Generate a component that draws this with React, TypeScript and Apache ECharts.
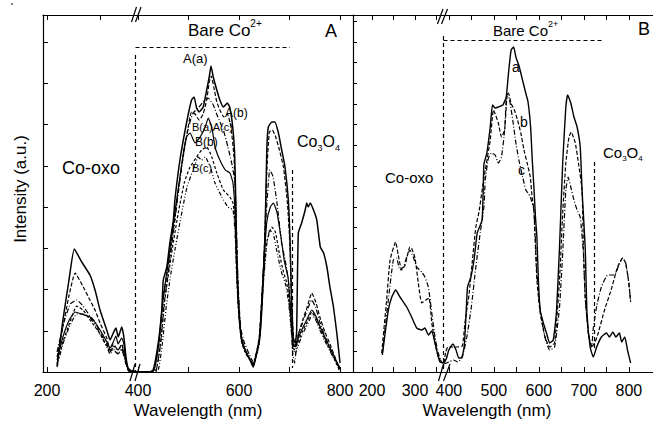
import React, { useEffect, useRef } from "react";
import * as echarts from "echarts";

// ---------- Panel A : [wavelength (nm), intensity (a.u.)] ----------
const aAaLeft = [[219,6],[230,52],[241.5,92],[251.5,123],[265.5,110],[281,97],[290.6,82],[300,62],[312.7,42],[319,32],[325,39],[330,44],[334.5,35],[341,45],[345,35],[349,15],[353,4],[360,1],[366,1]];
const aAaRight = [[394,0],[423,0],[430,2],[440,29],[447,62],[450,92],[457,105],[463,129],[470,152],[473,172],[483,212],[496,249],[506,272],[511,275],[516,264],[521,260],[529,265],[536,282],[541,295],[544.5,306],[549,295],[556,282],[562,272],[569,265],[577,269],[582,264],[587.5,245],[591,222],[593,185],[595,122],[598.6,72],[605,32],[612,22],[622,12],[628,5],[642,39],[651.5,139],[655,222],[658,245],[665,250],[671,250],[678,239],[684.5,222],[691,205],[697.6,172],[701,132],[704,72],[707.5,32],[711,29],[714,39],[717.4,139],[724,149],[731,162],[734,169],[737,165],[741,169],[747.5,162],[754,152],[761,125],[767.5,119],[774,105],[780,85],[787,65],[793.6,39],[800,9]];

const aAbLeft = [[219,15],[230,45],[241,75],[253,99],[268.5,85],[281,72],[290.6,62],[300,49],[312.7,34],[319,22],[325,28],[334,22],[341,27],[349,10],[353,2],[360,0],[366,0]];
const aAbRight = [[394,0],[423,0],[432,3],[442,30],[450,75],[458,100],[465,125],[472,150],[483,195],[496,235],[506,260],[513,258],[521,252],[529,258],[536,272],[541,290],[545,296],[550,285],[556,270],[562,262],[570,255],[577,258],[584,245],[590,215],[594,160],[598,85],[603,40],[610,25],[620,14],[628,8],[640,35],[650,120],[655,200],[660,240],[666,242],[672,236],[680,222],[688,205],[696,168],[701,125],[704,70],[708,35],[712,25],[718,38],[726,52],[735,65],[744,79],[752,70],[760,55],[770,40],[780,28],[790,15],[798,2]];

const aAcLeft = [[219,20],[232,50],[244,68],[256,72],[268,66],[281,56],[291,50],[300,40],[313,28],[319,20],[325,24],[334,18],[341,22],[349,8],[355,1],[366,0]];
const aAcRight = [[394,0],[425,0],[436,2],[445,30],[452,70],[460,100],[470,140],[480,180],[492,225],[500,245],[509,259],[519,264],[529,270],[539,274],[549,267],[558,255],[569,242],[578,225],[585.5,209],[592,189],[595,140],[598,90],[603,45],[610,30],[620,18],[628,10],[640,30],[648,100],[654,160],[661,202],[667,196],[675,170],[684,130],[692,110],[698,90],[702,60],[706,20],[710,9],[716,35],[725,48],[735,62],[744,72],[752,64],[760,50],[770,36],[782,22],[792,10],[800,3]];

const aBaLeft = [[219,12],[230,35],[242,52],[253,60],[265,58],[281,55],[290,50],[300,42],[313,30],[319,24],[325,30],[330,36],[334,28],[341,34],[345,28],[349,12],[353,3],[360,0],[366,0]];
const aBaRight = [[394,0],[423,0],[432,2],[441,28],[449,70],[457,100],[465,130],[473,160],[483,195],[490,220],[496,235],[503,239],[513,229],[523,235],[533,245],[539,254],[546,245],[552.5,225],[562,212],[573,202],[582,199],[588,189],[592,160],[595,110],[599,65],[605,35],[612,22],[622,12],[628,6],[640,32],[648,100],[655,150],[662,165],[668,169],[675,160],[683,135],[690,110],[697,95],[701,70],[705,40],[709,25],[714,30],[724,42],[734,52],[744,62],[752,56],[760,46],[770,35],[782,22],[792,12],[800,4]];

const aBbLeft = [[219,8],[230,30],[242,48],[256,66],[268,62],[281,52],[291,45],[300,38],[313,26],[319,20],[325,26],[334,22],[341,28],[349,10],[354,1],[366,0]];
const aBbRight = [[394,0],[426,0],[436,2],[445,30],[453,72],[461,100],[470,130],[480,160],[492,190],[503,205],[516,215],[526,222],[536,225],[546,215],[556,199],[569,182],[582,175],[588,169],[592,150],[595,100],[599,60],[605,30],[612,20],[622,12],[628,8],[640,30],[648,90],[655,130],[665,145],[672,140],[680,118],[688,100],[695,88],[700,65],[705,35],[709,22],[715,28],[725,40],[735,50],[744,60],[752,54],[760,44],[770,33],[782,20],[792,10],[800,3]];

const aBcLeft = [[219,5],[230,28],[242,45],[256,58],[268,58],[281,54],[291,47],[300,38],[313,25],[319,18],[325,22],[334,18],[341,24],[349,8],[354,1],[366,0]];
const aBcRight = [[394,0],[428,0],[440,2],[448,28],[456,66],[464,95],[474,125],[485,155],[497,185],[509,202],[519,215],[526,212],[533,215],[543,205],[552.5,189],[566,175],[578,165],[588,162],[592,140],[596,95],[600,55],[606,30],[614,18],[624,10],[628,8],[640,28],[648,88],[655,128],[661,142],[668,138],[676,118],[684,100],[692,88],[698,70],[703,45],[707,25],[711,18],[716,25],[726,38],[736,48],[745,57],[752,52],[760,42],[770,31],[782,19],[792,9],[800,2]];

// ---------- Panel B ----------
const bALeft = [[224,17],[238,62],[246,75],[255,82],[265,75],[280.7,65],[292,55],[304,44],[315.6,42],[323,44],[331,37],[339,41],[346.5,29],[352,19],[358,10],[366,9]];
const bARight = [[389.5,9],[395,14],[400,22],[409,28],[416,22],[422,14],[428,14],[434,25],[438,55],[441.5,85],[449,95],[456,112],[463,139],[470,147],[474,152],[476,175],[478,208],[484.5,219],[492,245],[497,267],[503,264],[510,265],[520,267],[527.5,275],[532.6,299],[538.4,322],[544,325],[549,315],[556.6,305],[563.7,292],[570.9,279],[576,270],[581.7,245],[585.4,212],[589,185],[592.5,155],[595.7,135],[599,92],[603,62],[610,49],[617,39],[624,29],[632,32],[639,59],[646,125],[653,209],[660,265],[664,277],[671,269],[678,255],[685,245],[692,225],[696,182],[703,125],[707,59],[714,25],[721,15],[728.5,25],[739,35],[750,39],[757,35],[764.5,40],[771,35],[779,39],[784,30],[791,35],[797,22],[804,9]];

const bBLeft = [[222.5,19],[234,72],[242,112],[255,130],[261,117],[269,102],[277,107],[288,125],[292,124],[300,114],[307.7,89],[315.6,69],[325.6,72],[332.6,74],[339,49],[346.5,29],[354,15],[362,10],[367,9]];
const bBRight = [[389.5,9],[393,20],[398,25],[410,25],[420,25],[430,26],[436,50],[445,78],[452,110],[460,145],[467,160],[474,182],[481,202],[492,232],[499,262],[503,258],[510,249],[517,235],[524,242],[529,275],[532.6,279],[538,269],[545.6,262],[552.7,252],[560,239],[567,222],[574,209],[581,195],[585,175],[589,162],[595.7,92],[603,59],[613.6,35],[624,25],[635,29],[646,92],[653,159],[660,209],[667,235],[672,240],[681,229],[688,209],[696,182],[699,125],[703,75],[710,39],[717.5,25],[725,30],[732,39],[746,62],[760.6,82],[775,105],[786,114],[793,109],[800,89],[804,70]];

const bCLeft = [[224,19],[238,72],[249.5,112],[257,114],[265,102],[273,105],[280.7,115],[288,122],[296,115],[304,105],[315.6,100],[323,95],[331,85],[339,59],[346.5,35],[354,19],[362,10],[367,9]];
const bCRight = [[389.5,8],[400,10],[410,12],[420,10],[430,15],[440,35],[450,65],[460,105],[470,140],[478,165],[481,192],[488,214],[495,219],[503,217],[510,209],[517,215],[524,242],[529,279],[535,272],[542,252],[549,229],[557,209],[564,195],[571,182],[576,179],[581,175],[589,162],[595.7,99],[603,62],[613.6,35],[624,22],[635,25],[646,65],[653,119],[660,182],[665,195],[671,185],[678,172],[685,162],[692,155],[699,119],[703,75],[710,39],[717.5,25],[720.5,42],[729,67],[739,85],[753,97],[767.7,97],[778,107],[786,114],[793,109],[800,89],[804,70]];

// ---------- axis ticks / labels ----------
const aLeftTicks = [200, 300];
const aLeftLabels = [200];
const aRightTicks = [400, 500, 600, 700, 800];
const aRightLabels = [400, 600, 800];
const bLeftTicks = [200, 250, 300, 350];
const bLeftLabels = [200, 300];
const bRightTicks = [400, 450, 500, 550, 600, 650, 700, 750, 800];
const bRightLabels = [400, 500, 600, 700, 800];

const FONT = "Liberation Sans, Arial, Helvetica, sans-serif";
const Y_MAX = 357;

const SOLID = "solid";
const DASH = [4, 2];
const DASHDOT = [5, 2, 1, 2];
const DASH2 = [3, 2];
const DASHDOTDOT = [4, 2, 1, 2, 1, 2];

function makeXAxes(gridIndex: number, min: number, max: number, ticks: number[], labels: number[]) {
  const common = {
    type: "value",
    gridIndex,
    min,
    max,
    splitLine: { show: false },
    axisLine: { show: true, onZero: false, lineStyle: { color: "#000", width: 1.2 } },
    axisTick: { show: true, inside: true, length: 5, customValues: ticks, lineStyle: { color: "#000" } },
  };
  return [
    {
      ...common,
      position: "bottom",
      axisLabel: { show: true, customValues: labels, color: "#000", fontSize: 16, fontFamily: FONT, margin: 10 },
    },
    {
      ...common,
      position: "top",
      axisLabel: { show: false },
    },
  ];
}

function makeYAxis(gridIndex: number, show: boolean, interval: number, tickLen: number) {
  return {
    type: "value",
    gridIndex,
    min: 0,
    max: Y_MAX,
    interval,
    show,
    splitLine: { show: false },
    axisLabel: { show: false },
    axisLine: { show, onZero: false, lineStyle: { color: "#000", width: 1.2 } },
    axisTick: { show, inside: true, length: tickLen, lineStyle: { color: "#000" } },
  };
}

function line(data: number[][], grid: number, type: any, width = 1.2) {
  return {
    type: "line",
    xAxisIndex: grid * 2,
    yAxisIndex: grid,
    data,
    showSymbol: false,
    symbol: "none",
    smooth: 0.15,
    silent: true,
    lineStyle: { color: "#000", width, type },
  };
}

function txt(text: string, x: number, y: number, fontSize: number, extra: any = {}) {
  return {
    type: "text",
    x,
    y,
    z: 10,
    style: {
      text,
      fill: "#000",
      fontSize,
      fontFamily: FONT,
      align: "left",
      verticalAlign: "middle",
      ...extra,
    },
  };
}

function dline(x1: number, y1: number, x2: number, y2: number, dashed = true) {
  return {
    type: "line",
    z: 10,
    shape: { x1, y1, x2, y2 },
    style: { stroke: "#000", lineWidth: 1.2, lineDash: dashed ? [4, 3] : null },
  };
}

export default function App() {
  const ref = useRef<HTMLDivElement>(null);
  useEffect(() => {
    const chart = echarts.init(ref.current!, null, { renderer: "svg" });
    const supRich = (fs: number, sfs: number) => ({
      sup: { fontSize: sfs, fontFamily: FONT, fill: "#000", lineHeight: sfs, verticalAlign: "top" },
      sub: { fontSize: sfs, fontFamily: FONT, fill: "#000", lineHeight: sfs, verticalAlign: "bottom" },
      n: { fontSize: fs, fontFamily: FONT, fill: "#000", lineHeight: fs + 6 },
    });
    const option: any = {
      animation: false,
      backgroundColor: "#fff",
      grid: [
        { left: 43, top: 15, width: 92, height: 357 },
        { left: 135, top: 15, width: 218, height: 357 },
        { left: 353, top: 15, width: 91, height: 357 },
        { left: 444, top: 15, width: 216, height: 357 },
      ],
      xAxis: [
        ...makeXAxes(0, 192.45, 366, aLeftTicks, aLeftLabels),
        ...makeXAxes(1, 394, 825.7, aRightTicks, aRightLabels),
        ...makeXAxes(2, 155.8, 367.4, bLeftTicks, bLeftLabels),
        ...makeXAxes(3, 389.25, 853.7, bRightTicks, bRightLabels),
      ],
      yAxis: [
        makeYAxis(0, true, 41.25, 5),
        makeYAxis(1, false, 41.25, 5),
        makeYAxis(2, true, 20.625, 4),
        makeYAxis(3, false, 20.625, 4),
      ],
      series: [
        line(aAaLeft, 0, SOLID, 1.5), line(aAaRight, 1, SOLID, 1.5),
        line(aAbLeft, 0, DASH), line(aAbRight, 1, DASH),
        line(aAcLeft, 0, DASHDOT), line(aAcRight, 1, DASHDOT),
        line(aBaLeft, 0, SOLID), line(aBaRight, 1, SOLID),
        line(aBbLeft, 0, DASH2), line(aBbRight, 1, DASH2),
        line(aBcLeft, 0, DASHDOTDOT), line(aBcRight, 1, DASHDOTDOT),
        line(bALeft, 2, SOLID, 1.4), line(bARight, 3, SOLID, 1.4),
        line(bBLeft, 2, DASH), line(bBRight, 3, DASH),
        line(bCLeft, 2, DASHDOT), line(bCRight, 3, DASHDOT),
      ],
      graphic: [
        {
          type: "text",
          x: 20,
          y: 189,
          rotation: Math.PI / 2,
          z: 10,
          style: { text: "Intensity (a.u.)", fill: "#000", fontSize: 17, fontFamily: FONT, align: "center", verticalAlign: "middle" },
        },
        txt("Wavelength (nm)", 198, 410, 17, { align: "center" }),
        txt("Wavelength (nm)", 487, 410, 17, { align: "center" }),
        // panel A annotations
        txt("A", 325, 31, 18),
        txt("{n|Bare Co}{sup|2+}", 188, 30, 17, { rich: supRich(17, 10) }),
        txt("A(a)", 183, 58, 13),
        txt("A(b)", 225, 113, 12),
        txt("B(a)A(c)", 192, 127, 11),
        txt("B(b)", 195, 142, 12),
        txt("B(c)", 192, 168, 11),
        txt("Co-oxo", 62, 168, 18),
        txt("{n|Co}{sub|3}{n|O}{sub|4}", 297, 141, 16, { rich: supRich(16, 9) }),
        dline(135.5, 47.5, 290, 47.5),
        dline(135.5, 55, 135.5, 372),
        dline(292.5, 170, 292.5, 368),
        // panel B annotations
        txt("B", 638, 29, 18),
        txt("{n|Bare Co}{sup|2+}", 493, 30, 15, { rich: supRich(15, 9) }),
        txt("a", 512, 67, 14),
        txt("b", 520, 122, 14),
        txt("c", 518, 170, 14),
        txt("Co-oxo", 385, 177, 15),
        txt("{n|Co}{sub|3}{n|O}{sub|4}", 603, 152, 15, { rich: supRich(15, 8) }),
        dline(443.5, 40.5, 602, 40.5),
        dline(443.5, 36, 443.5, 372),
        dline(594.5, 162, 594.5, 350),
        // axis breaks
        dline(131.5, 22, 136.5, 7, false),
        dline(135.5, 22, 141, 7, false),
        dline(130, 381, 135, 364, false),
        dline(135, 381, 140, 364, false),
        dline(437.5, 24, 443, 9, false),
        dline(441.5, 24, 447.5, 9, false),
        dline(438.5, 381, 443.5, 364, false),
        dline(443.5, 381, 450, 364, false),
        dline(11, 4, 13, 4, false),
      ],
    };
    chart.setOption(option);
    return () => chart.dispose();
  }, []);
  return (
    <div
      ref={ref}
      style={{ position: "fixed", left: 0, top: 0, width: 653, height: 421, background: "#fff" }}
    />
  );
}
